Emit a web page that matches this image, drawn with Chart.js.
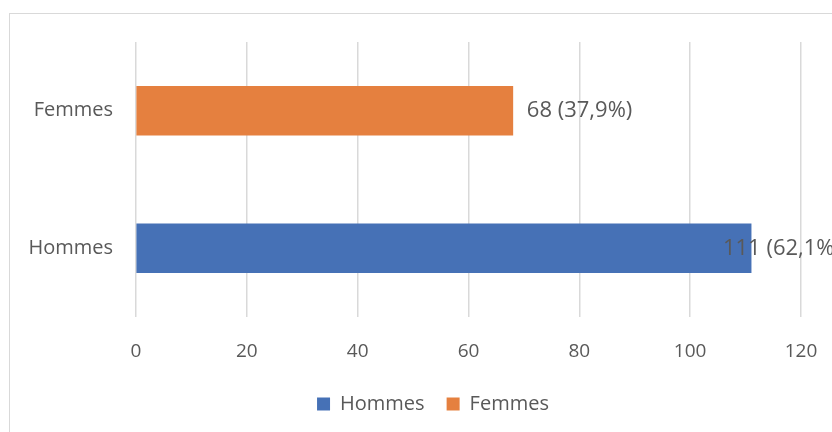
<!DOCTYPE html>
<html>
<head>
<meta charset="utf-8">
<script src="https://cdn.jsdelivr.net/npm/chart.js@4/dist/chart.umd.min.js"></script>
<style>
  html, body { margin: 0; padding: 0; background: #fff; width: 832px; height: 432px; overflow: hidden; }
  #cadre { position: absolute; left: 9px; top: 13px; width: 900px; height: 500px;
           border: 1.5px solid #d9d9d9; pointer-events: none; }
  #graph { position: absolute; left: 0; top: 0; }
</style>
</head>
<body>
<canvas id="graph" width="864" height="432"></canvas>
<div id="cadre"></div>
<script>
/* =====================================================
   Répartition par sexe — barres horizontales
===================================================== */

const CATEGORIES = ["Femmes", "Hommes"]
const SERIES     = ["Hommes", "Femmes"]
const HOMMES     = [null, 111]
const FEMMES     = [68, null]
const POURCENTS  = { Hommes: "62,1%", Femmes: "37,9%" }
const TICKS_X    = [0, 20, 40, 60, 80, 100, 120]

const COULEURS = { Hommes: "#4671B6", Femmes: "#E5803F" }
const GRIS_TXT = "#595959"
const POLICE   = "'Open Sans', 'Liberation Sans', sans-serif"

// Étiquettes de données à droite des barres
const etiquettes = {
  id: "etiquettes",
  afterDatasetsDraw(chart) {
    const ctx = chart.ctx
    ctx.save()
    ctx.font = "22px " + POLICE
    ctx.fillStyle = GRIS_TXT
    ctx.textBaseline = "middle"
    ctx.textAlign = "left"
    chart.data.datasets.forEach((ds, i) => {
      const meta = chart.getDatasetMeta(i)
      meta.data.forEach((bar, j) => {
        const v = ds.data[j]
        if (v == null) return
        const txt = v + " (" + POURCENTS[ds.label] + ")"
        const w = ctx.measureText(txt).width
        const x = Math.min(bar.x + 14, 841 - w)
        ctx.fillText(txt, x, bar.y)
      })
    })
    ctx.restore()
  }
}

// Légende centrée sous tout le cadre (pas seulement sous le graphique)
const decalLegende = {
  id: "decalLegende",
  afterLayout(chart) {
    if (chart.legend) chart.legend.left += 65
  }
}

new Chart(document.getElementById("graph"), {
  type: "bar",
  data: {
    labels: CATEGORIES,
    datasets: [
      { label: SERIES[0], data: HOMMES, backgroundColor: COULEURS.Hommes, barThickness: 49 },
      { label: SERIES[1], data: FEMMES, backgroundColor: COULEURS.Femmes, barThickness: 49 },
    ]
  },
  options: {
    indexAxis: "y",
    responsive: false,
    animation: false,
    layout: { padding: { left: 0, right: 63, top: 42, bottom: 8 } },
    plugins: {
      legend: {
        position: "bottom",
        labels: {
          boxWidth: 13, boxHeight: 13, padding: 22,
          color: GRIS_TXT, font: { family: POLICE, size: 20 }
        }
      },
      tooltip: { enabled: false }
    },
    scales: {
      x: {
        stacked: true,
        min: 0, max: 120,
        afterBuildTicks: s => { s.ticks = TICKS_X.map(v => ({ value: v })) },
        afterFit: s => { s.height = 55 },
        grid: { color: "#d9d9d9", lineWidth: 1.5, drawTicks: false },
        border: { display: false },
        ticks: { color: GRIS_TXT, padding: 23, font: { family: POLICE, size: 19 } }
      },
      y: {
        stacked: true,
        afterFit: s => { s.width = 136 },
        grid: { display: false, drawTicks: false },
        border: { display: false },
        ticks: { color: GRIS_TXT, padding: 23, font: { family: POLICE, size: 20 } }
      }
    }
  },
  plugins: [etiquettes, decalLegende]
})
</script>
</body>
</html>
